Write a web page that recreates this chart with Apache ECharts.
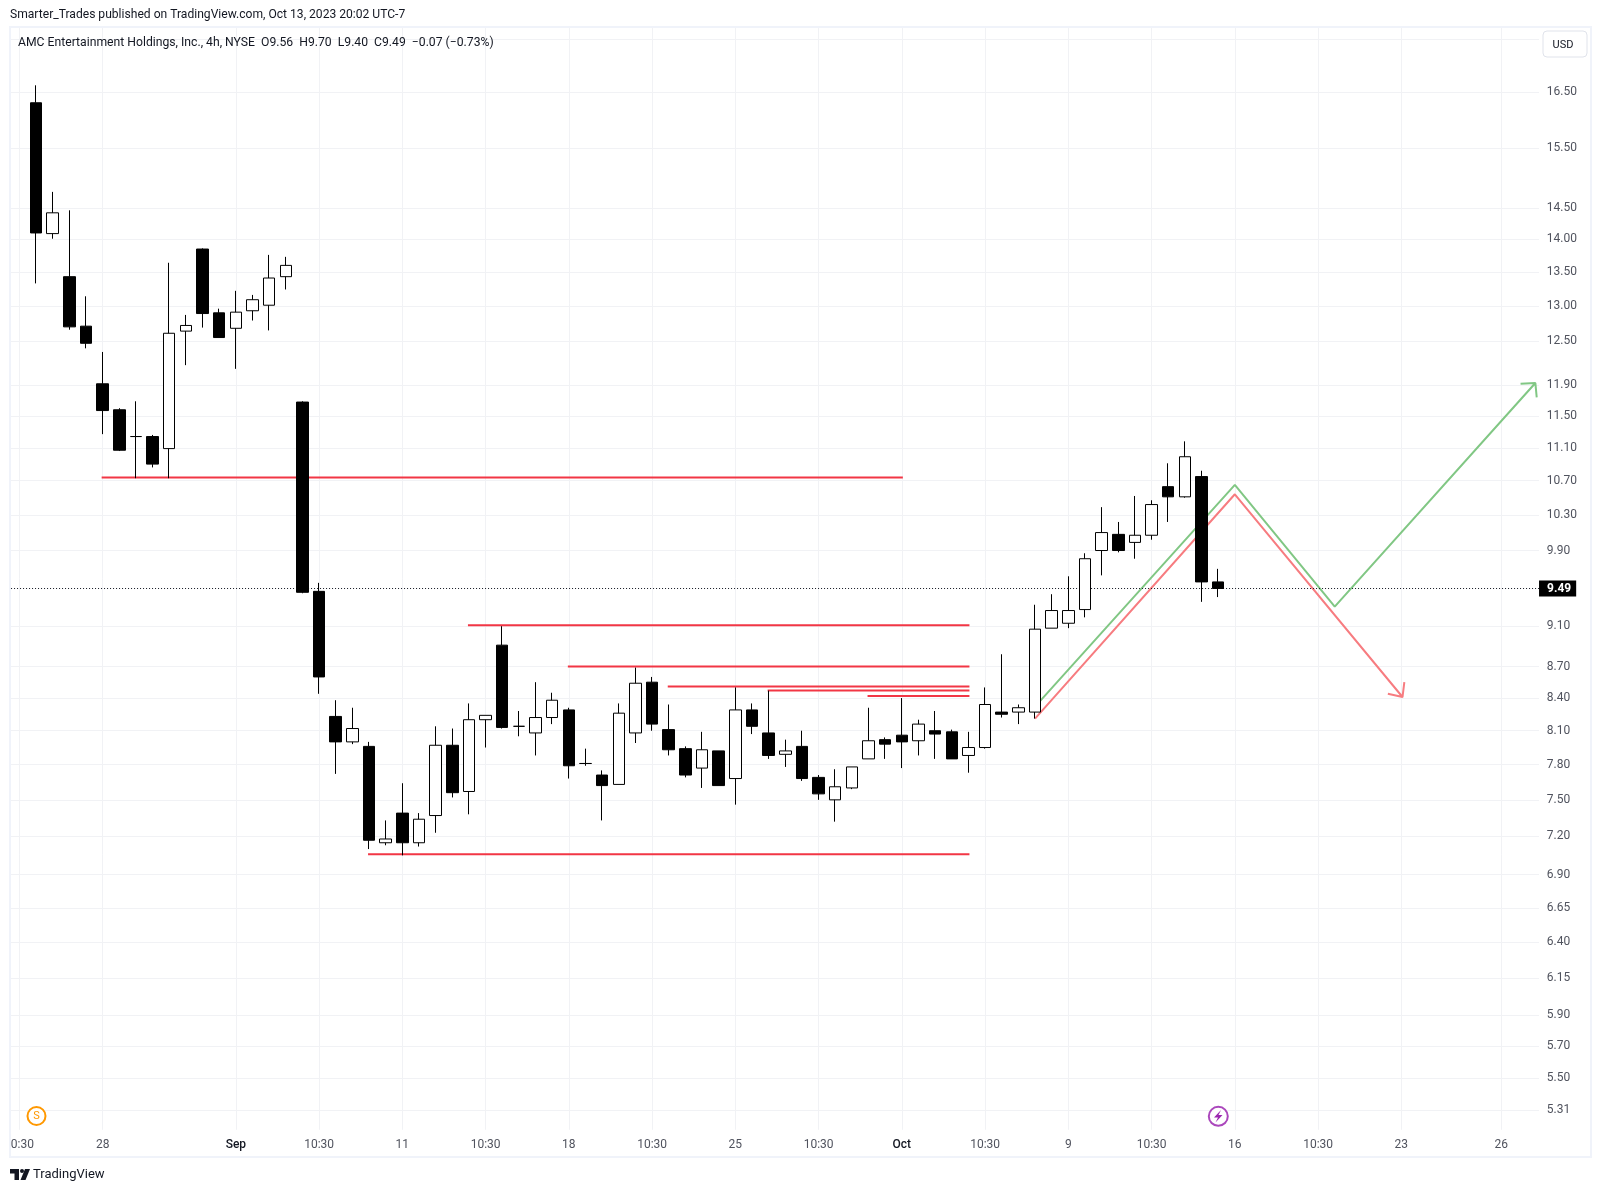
<!DOCTYPE html>
<html>
<head>
<meta charset="utf-8">
<title>AMC 4h</title>
<script src="https://cdn.jsdelivr.net/npm/echarts@6/dist/echarts.min.js"></script>
<style>
html, body { margin: 0; padding: 0; background: #fff; }
#main { width: 1601px; height: 1192px; }
</style>
</head>
<body>
<div id="main"></div>
<script>
// bars, first category slot (the clipped 10:30 tick) has no candle
var opens = [16.30,14.09,13.43,12.71,11.92,11.58,11.24,11.24,11.09,12.64,13.85,12.90,12.68,12.93,13.01,13.43,
  11.68,9.46,8.23,8.00,7.96,7.15,7.39,7.15,7.37,7.97,7.57,8.20,8.91,8.14,8.08,8.22,8.29,7.81,7.71,7.63,
  8.08,8.55,8.11,7.94,7.77,7.92,7.68,8.29,8.08,7.89,7.96,7.69,7.50,7.60,7.85,8.02,8.06,8.01,8.10,8.09,
  7.88,7.95,8.27,8.27,8.27,9.08,9.13,9.27,9.90,10.08,9.99,10.07,10.63,10.51,10.75,9.56];
var closes = [14.10,14.42,12.70,12.47,11.57,11.07,11.24,10.90,12.61,12.72,12.89,12.55,12.91,13.09,13.41,13.60,
  9.45,8.60,8.00,8.12,7.17,7.18,7.15,7.34,7.97,7.56,8.20,8.24,8.13,8.14,8.22,8.38,7.79,7.81,7.62,8.26,
  8.54,8.16,7.93,7.71,7.93,7.62,8.29,8.14,7.88,7.92,7.68,7.55,7.61,7.78,8.01,7.98,8.00,8.16,8.07,7.85,
  7.95,8.34,8.25,8.31,9.07,9.26,9.26,9.81,10.10,9.90,10.07,10.42,10.51,10.99,9.56,9.49];
var lows = [13.33,14.01,12.66,12.40,11.27,11.06,10.73,10.86,10.73,12.17,12.69,12.55,12.12,12.79,12.65,13.24,
  9.44,8.44,7.72,7.98,7.10,7.13,7.05,7.12,7.23,7.52,7.38,7.95,8.12,8.05,7.88,8.16,7.68,7.79,7.33,7.63,
  7.99,8.10,7.88,7.69,7.60,7.62,7.46,8.07,7.85,7.78,7.66,7.50,7.32,7.59,7.85,7.85,7.77,7.88,7.85,7.85,
  7.73,7.94,8.22,8.16,8.21,9.08,9.08,9.19,9.63,9.88,9.81,10.02,10.22,10.50,9.35,9.40];
var highs = [16.62,14.76,14.46,13.14,12.35,11.60,11.69,11.26,13.64,12.87,13.86,12.96,13.22,13.16,13.76,13.73,
  11.69,9.55,8.38,8.31,8.00,7.33,7.64,7.39,8.14,8.12,8.35,8.24,9.10,8.28,8.55,8.45,8.31,7.94,7.75,8.35,
  8.69,8.60,8.34,7.96,8.09,7.92,8.50,8.35,8.47,8.02,8.10,7.71,7.76,7.78,8.31,8.04,8.40,8.20,8.28,8.11,
  8.09,8.50,8.82,8.34,9.32,9.43,9.62,9.87,10.39,10.22,10.52,10.47,10.91,11.18,10.82,9.70];

var slotCount = 92;
var timeTickSlots = [0,5,13,18,23,28,33,38,43,48,53,58,63,68,73,78,83,89];
var timeTickLabels = ['0:30','28','Sep','10:30','11','10:30','18','10:30','25','10:30','Oct','10:30','9','10:30','16','10:30','23','26'];
var priceLabels = [16.5,15.5,14.5,14,13.5,13,12.5,11.9,11.5,11.1,10.7,10.3,9.9,9.1,8.7,8.4,8.1,7.8,7.5,7.2,6.9,6.65,6.4,6.15,5.9,5.7,5.5,5.31];
var priceGridExtra = [17.5];
var lastPrice = 9.49;

// horizontal levels: [from slot, to slot, price]
var levelFrom = [5,27,33,39,45,51,21];
var levelTo = [53,57,57,57,57,57,57];
var levelPrice = [10.74,9.11,8.70,8.51,8.47,8.42,7.06];

// drawn arrows (slot, price)
var greenSlots = [61,73,79,91.05,90.16,91.05,91.13];
var greenPrices = [8.32,10.65,9.30,11.93,11.92,11.93,11.74];
var redSlots = [61,73,83.07,82.19,83.07,83.18];
var redPrices = [8.21,10.54,8.41,8.44,8.41,8.55];

var candles = [['-','-','-','-']];
for (var i = 0; i < opens.length; i++) {
  candles.push([opens[i], closes[i], lows[i], highs[i]]);
}
var categories = [];
for (var s = 0; s < slotCount; s++) {
  var t = timeTickSlots.indexOf(s);
  categories.push(t >= 0 ? timeTickLabels[t] : '');
}
function isTimeTick(index) {
  return timeTickSlots.indexOf(index) >= 0;
}
function zip(xs, ys) {
  return xs.map(function (x, k) { return [x, ys[k]]; });
}

var axisFont = 'Roboto, sans-serif';
var gridColor = '#f1f2f5';
var frameColor = '#f0f3fa';
var labelColor = '#50535e';

var series = [];
levelPrice.forEach(function (p, k) {
  series.push({
    type: 'line', xAxisIndex: 1, symbol: 'none', silent: true, z: 2,
    lineStyle: { color: '#f23645', width: 2, cap: 'square' },
    data: [[levelFrom[k], p], [levelTo[k], p]]
  });
});
series.push({
  type: 'line', xAxisIndex: 1, symbol: 'none', silent: true, z: 2,
  lineStyle: { color: '#f77c80', width: 2 },
  data: zip(redSlots, redPrices)
});
series.push({
  type: 'line', xAxisIndex: 1, symbol: 'none', silent: true, z: 2,
  lineStyle: { color: '#81c784', width: 2 },
  data: zip(greenSlots, greenPrices)
});
series.push({
  type: 'line', xAxisIndex: 1, symbol: 'none', silent: true, z: 2,
  lineStyle: { color: '#131722', width: 1, type: [1, 2] },
  data: [[-0.5, lastPrice], [91.27, lastPrice]],
  endLabel: {
    show: true, distance: 0, formatter: lastPrice.toFixed(2),
    color: '#fff', backgroundColor: '#000', fontWeight: 'bold', fontFamily: axisFont, fontSize: 12,
    padding: [3, 5, 1, 8]
  }
});
series.push({
  type: 'candlestick', z: 3, silent: true,
  barWidth: 12,
  itemStyle: { color: '#ffffff', color0: '#000000', borderColor: '#000000', borderColor0: '#000000', borderWidth: 1 },
  data: candles
});

var chart = echarts.init(document.getElementById('main'));
chart.setOption({
  animation: false,
  backgroundColor: '#ffffff',
  grid: { left: 11.07, width: 1531.8, top: 27.76, height: 1102 },
  xAxis: [
    {
      type: 'category',
      data: categories,
      axisLine: { show: false },
      axisTick: { show: false },
      axisLabel: {
        interval: function (index) { return isTimeTick(index); },
        margin: 9,
        color: labelColor,
        fontFamily: axisFont,
        fontSize: 12,
        formatter: function (v) {
          if (v === '0:30') return '{c|' + v + '}';
          return v === 'Sep' || v === 'Oct' ? '{m|' + v + '}' : v;
        },
        rich: {
          m: { color: '#131722', fontWeight: 500, fontFamily: axisFont, fontSize: 12 },
          c: { color: labelColor, fontFamily: axisFont, fontSize: 12, padding: [0, 0, 0, 6] }
        }
      },
      splitLine: {
        show: true,
        alignWithLabel: true,
        interval: function (index) { return isTimeTick(index); },
        lineStyle: { color: gridColor, width: 1 }
      }
    },
    { type: 'value', show: false, min: -0.5, max: 91.5, splitLine: { show: false } }
  ],
  yAxis: {
    type: 'log',
    logBase: 10,
    position: 'right',
    min: 5.194,
    max: 17.72,
    axisLine: { show: false },
    axisTick: { show: false, customValues: priceLabels.concat(priceGridExtra) },
    axisLabel: {
      margin: 4,
      padding: [2, 0, 0, 0],
      color: labelColor,
      fontFamily: axisFont,
      fontSize: 12,
      customValues: priceLabels,
      formatter: function (v) { return Number(v).toFixed(2); }
    },
    splitLine: { show: true, lineStyle: { color: gridColor, width: 1 } },
    minorTick: { show: false },
    minorSplitLine: { show: false }
  },
  graphic: [
    // price scale gutter, the grid lines stop short of the labels
    { type: 'rect', silent: true, z: 1, shape: { x: 1539, y: 28, width: 6, height: 1102 }, style: { fill: '#fff' } },
    { type: 'rect', silent: true, z: 20, shape: { x: 10, y: 27, width: 1581, height: 1130 }, style: { fill: 'none', stroke: frameColor, lineWidth: 2 } },
    { type: 'text', silent: true, z: 20, x: 10, y: 9, style: { text: 'Smarter_Trades published on TradingView.com, Oct 13, 2023 20:02 UTC-7', fill: '#131722', font: '12.1px Roboto, sans-serif' } },
    { type: 'text', silent: true, z: 20, x: 18, y: 37, style: { text: 'AMC Entertainment Holdings, Inc., 4h, NYSE  O9.56  H9.70  L9.40  C9.49  \u22120.07 (\u22120.73%)', fill: '#131722', font: '12.2px Roboto, sans-serif' } },
    { type: 'rect', silent: true, z: 20, shape: { x: 1543, y: 31, width: 44, height: 26, r: 4 }, style: { fill: '#fff', stroke: '#e0e3eb', lineWidth: 1 } },
    { type: 'text', silent: true, z: 21, x: 1563, y: 45, style: { text: 'USD', fill: '#131722', font: '11px Roboto, sans-serif', textAlign: 'center', textVerticalAlign: 'middle' } },
    { type: 'circle', silent: true, z: 20, shape: { cx: 36.5, cy: 1116, r: 9 }, style: { fill: '#fff', stroke: '#ff9800', lineWidth: 2 } },
    { type: 'text', silent: true, z: 21, x: 36.5, y: 1116, style: { text: 'S', fill: '#ff9800', font: '11px Roboto, sans-serif', textAlign: 'center', textVerticalAlign: 'middle' } },
    { type: 'circle', silent: true, z: 20, shape: { cx: 1218.3, cy: 1116.3, r: 9.5 }, style: { fill: '#fff', stroke: '#ab47bc', lineWidth: 2 } },
    { type: 'polygon', silent: true, z: 21, shape: { points: [[1221, 1110], [1214, 1117.5], [1218, 1117.5], [1215.5, 1122.5], [1222.5, 1115], [1218.5, 1115]] }, style: { fill: '#9c27b0' } },
    // TradingView mark
    { type: 'polygon', silent: true, z: 20, shape: { points: [[10, 1169], [19, 1169], [19, 1180], [14.5, 1180], [14.5, 1173.5], [10, 1173.5]] }, style: { fill: '#131722' } },
    { type: 'circle', silent: true, z: 20, shape: { cx: 22, cy: 1171, r: 2 }, style: { fill: '#131722' } },
    { type: 'polygon', silent: true, z: 20, shape: { points: [[25, 1169], [30, 1169], [25.5, 1180], [20.5, 1180]] }, style: { fill: '#131722' } },
    { type: 'text', silent: true, z: 20, x: 33, y: 1175, style: { text: 'TradingView', fill: '#131722', font: '13px Roboto, sans-serif', textVerticalAlign: 'middle' } }
  ],
  series: series
});
</script>
</body>
</html>
